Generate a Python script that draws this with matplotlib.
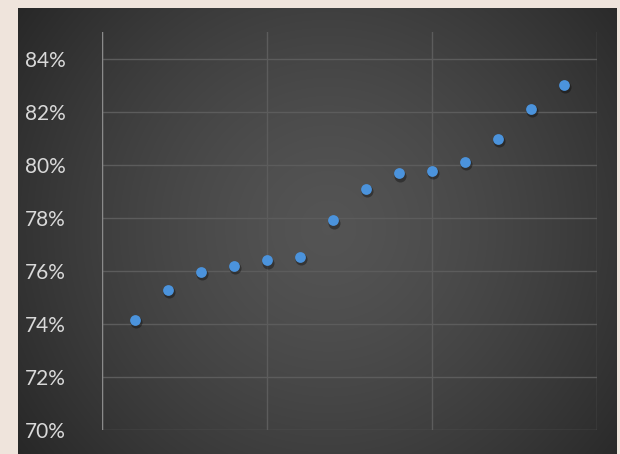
import numpy as np
import matplotlib.pyplot as plt
from matplotlib.ticker import FuncFormatter, MultipleLocator

# Values
x_vals = list(range(1, 15))
y_vals = [74.15, 75.28, 75.97, 76.19, 76.39, 76.53, 77.91, 79.09, 79.68, 79.78, 80.11, 80.98, 82.11, 83.0]

fig = plt.figure(figsize=(6.2, 4.54), dpi=100)
fig.patch.set_facecolor("#efe4dc")

# dark panel with radial gradient
bg = fig.add_axes([18 / 620, 0, 599 / 620, 446 / 454])
bg.set_axis_off()
h, w = 446, 599
yy, xx = np.mgrid[0:h, 0:w]
r = np.sqrt(((xx - 310) / 420) ** 2 + ((yy - 220) / 420) ** 2)
r = np.clip(r, 0, 1)
shade = 0.33 - 0.2 * r ** 1.4
img = np.dstack([shade, shade, shade])
bg.imshow(img, aspect="auto", extent=[0, 1, 0, 1])
bg.set_xlim(0, 1)
bg.set_ylim(0, 1)

ax = fig.add_axes([102 / 620, 24 / 454, 495 / 620, 398 / 454])
ax.patch.set_alpha(0)
ax.set_xlim(0, 15)
ax.set_ylim(70, 85)
ax.xaxis.set_major_locator(MultipleLocator(5))
ax.set_yticks(np.arange(70, 85, 2))
ax.yaxis.set_major_formatter(FuncFormatter(lambda v, p: f"{v:.0f}%"))
ax.grid(True, color="#5c5c5c", linewidth=1)
ax.set_axisbelow(True)
for s in ax.spines.values():
    s.set_visible(False)
ax.axvline(0, color="#8a8a8a", linewidth=1, zorder=1)
ax.tick_params(axis="x", length=0, labelbottom=False)
ax.tick_params(axis="y", length=0, pad=26, labelsize=15, labelcolor="#d9d9d9")
for lbl in ax.get_yticklabels():
    lbl.set_fontfamily("Lato")

# soft shadow then markers
ax.scatter([x + 0.04 for x in x_vals], [y - 0.09 for y in y_vals], s=75,
           color="black", alpha=0.35, linewidths=0, zorder=3)
ax.scatter(x_vals, y_vals, s=60, color="#4b93dc", linewidths=0, zorder=4)

fig.savefig("out.png", dpi=100, facecolor=fig.get_facecolor())
